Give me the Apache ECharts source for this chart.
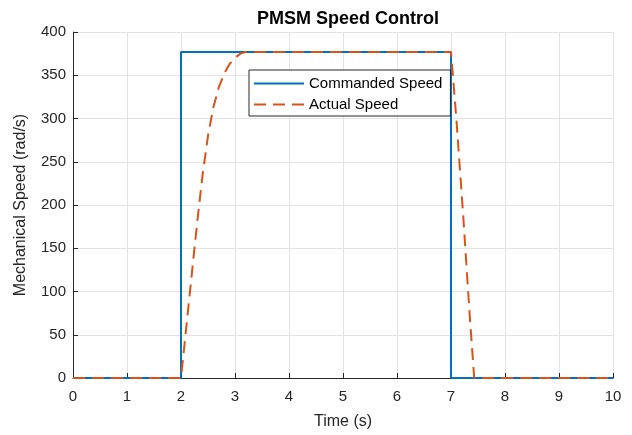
<!DOCTYPE html>
<html>
<head>
<meta charset="utf-8">
<script src="https://cdn.jsdelivr.net/npm/echarts@6/dist/echarts.min.js"></script>
<style>
html,body{margin:0;padding:0;background:#fff;}
#chart{width:632px;height:435px;}
</style>
</head>
<body>
<div id="chart"></div>
<script>
// Data
const cmdTime  = [0, 2, 2, 7, 7, 10];
const cmdSpeed = [0, 0, 377, 377, 0, 0];
const actTime  = [0, 2.0, 2.1, 2.2, 2.3, 2.4, 2.5, 2.6, 2.7, 2.8, 2.9, 3.0, 3.1, 3.2, 7.0, 7.1, 7.23, 7.35, 7.43, 10];
const actSpeed = [0, 0, 60, 120, 180, 235, 280, 313, 336, 352, 363, 370, 375, 377, 377, 299, 184, 69, 0, 0];
const xTicks = [0,1,2,3,4,5,6,7,8,9,10];
const yTicks = [0,50,100,150,200,250,300,350,400];
const seriesNames = ['Commanded Speed', 'Actual Speed'];

const zip = (a, b) => a.map((v, i) => [v, b[i]]);
const textCol = '#262626';
const font = 'Liberation Sans, Arial, Helvetica, sans-serif';
const solidIcon = 'path://M0,0H50V2H0Z';
const dashIcon = 'path://M0,0H12V2H0Z M19,0H31V2H19Z M38,0H50V2H38Z';

const chart = echarts.init(document.getElementById('chart'), null, {renderer: 'canvas'});
chart.setOption({
  animation: false,
  backgroundColor: '#fff',
  title: {
    text: 'PMSM Speed Control',
    left: 343, top: 5, textAlign: 'center',
    textStyle: {fontFamily: font, fontSize: 18, fontWeight: 'bold', color: '#000'}
  },
  grid: {left: 73, right: 19, top: 32, bottom: 55},
  legend: {
    orient: 'vertical', left: 249, top: 70,
    padding: [6, 8, 4, 5], itemGap: 6, itemWidth: 50, itemHeight: 2,
    backgroundColor: '#fff', borderColor: '#262626', borderWidth: 1,
    textStyle: {fontFamily: font, fontSize: 15, color: '#000', lineHeight: 15},
    data: [
      {name: seriesNames[0], icon: solidIcon},
      {name: seriesNames[1], icon: dashIcon}
    ]
  },
  xAxis: {
    type: 'value', min: xTicks[0], max: xTicks[xTicks.length-1], interval: 1,
    name: 'Time (s)', nameLocation: 'middle', nameGap: 36,
    nameTextStyle: {fontFamily: font, fontSize: 16, color: textCol},
    axisLine: {show: true, onZero: false, lineStyle: {color: textCol, width: 1}},
    axisTick: {show: true, inside: true, length: 5, lineStyle: {color: textCol}},
    axisLabel: {fontFamily: font, fontSize: 15, color: textCol, margin: 11},
    splitLine: {show: true, lineStyle: {color: '#e3e3e3', width: 1}}
  },
  yAxis: {
    type: 'value', min: yTicks[0], max: yTicks[yTicks.length-1], interval: 50,
    name: 'Mechanical Speed (rad/s)', nameLocation: 'middle', nameGap: 44,
    nameTextStyle: {fontFamily: font, fontSize: 16, color: textCol},
    axisLine: {show: true, lineStyle: {color: textCol, width: 1}},
    axisTick: {show: true, inside: true, length: 5, lineStyle: {color: textCol}},
    axisLabel: {fontFamily: font, fontSize: 15, color: textCol, margin: 7},
    splitLine: {show: true, lineStyle: {color: '#e3e3e3', width: 1}}
  },
  series: [
    {
      name: seriesNames[0], type: 'line', data: zip(cmdTime, cmdSpeed),
      symbol: 'none', clip: false, color: '#0072BD',
      lineStyle: {color: '#0072BD', width: 2}
    },
    {
      name: seriesNames[1], type: 'line', data: zip(actTime, actSpeed),
      symbol: 'none', clip: false, color: '#D95319',
      lineStyle: {color: '#D95319', width: 2, type: [12, 7]}
    }
  ]
});
</script>
</body>
</html>
